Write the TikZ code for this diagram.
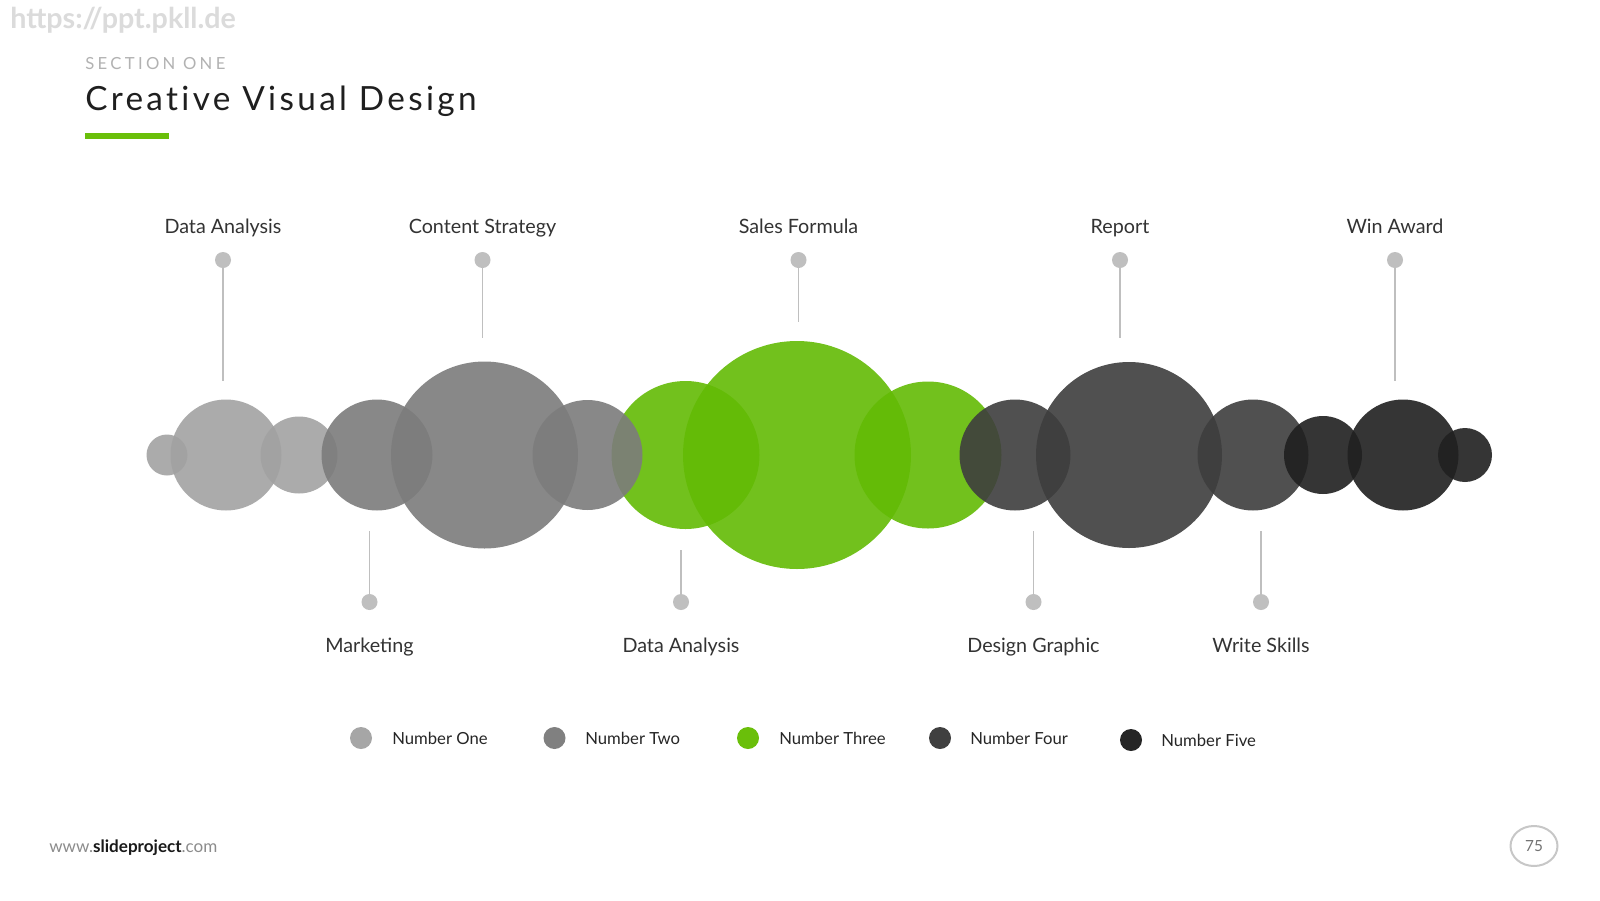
\documentclass[tikz,border=0pt]{standalone}
\usepackage{fontspec}
\setmainfont{Lato}
\newfontfamily\titlefont[LetterSpace=10,Ligatures=NoCommon]{Lato}
\newfontfamily\sectfont[LetterSpace=20]{Lato}
\definecolor{onec}{HTML}{A2A2A2}
\definecolor{twoc}{HTML}{7C7C7C}
\definecolor{threec}{HTML}{63BB05}
\definecolor{fourc}{HTML}{3E3E3E}
\definecolor{fivec}{HTML}{202020}
\definecolor{keygreen}{HTML}{6ABF0A}
\definecolor{pinc}{HTML}{BFBFBF}
\definecolor{txtc}{HTML}{333333}

\begin{document}
\begin{tikzpicture}[x=0.75pt,y=-0.75pt,
  pindot/.style={circle,fill=pinc,inner sep=0pt,minimum size=12pt},
  pinline/.style={draw=pinc,line width=0.9pt},
  lbl/.style={anchor=base,text=txtc,font=\fontsize{14.8}{17}\selectfont},
  keydot/.style={circle,inner sep=0pt,minimum size=16.5pt},
  keytxt/.style={anchor=west,text=black!85,inner sep=0pt,font=\fontsize{12.5}{15}\selectfont}]
\useasboundingbox (0,0) rectangle (1600,900);
\fill[white] (0,0) rectangle (1600,900);
\node[anchor=base west,inner sep=0pt,text=black!14,font=\bfseries\fontsize{21.5}{25}\selectfont] (web) at (10,28) {https://ppt.pkll.de};
\node[anchor=base west,inner sep=0pt,text=black!30,font=\sectfont\fontsize{12.5}{15}\selectfont] (sect) at (85,69) {SECTION ONE};
\node[anchor=base west,inner sep=0pt,text=black!88,font=\titlefont\fontsize{25}{30}\selectfont] (title) at (85,110.5) {Creative Visual Design};
\fill[keygreen] (85,132.5) rectangle (169,138.5);
\foreach \cx/\r in {685.5/74,797/114,928/73.5}
  \fill[threec,fill opacity=0.9] (\cx,455) circle (\r);
\foreach \cx/\r/\c in {167/20.5/onec,226/55.5/onec,299/38.5/onec,377/55.5/twoc,484.5/93.5/twoc,587.5/55/twoc,
  1015/55.5/fourc,1129/93/fourc,1253/55.5/fourc,1323/39/fivec,1403/55.5/fivec,1465/27/fivec}
  \fill[\c,fill opacity=0.9] (\cx,455) circle (\r);
\node[pindot] (t1) at (223,260) {};
\node[pindot] (t2) at (482.5,260) {};
\node[pindot] (t3) at (798.5,260) {};
\node[pindot] (t4) at (1120,260) {};
\node[pindot] (t5) at (1395,260) {};
\coordinate (te1) at (223,381);
\coordinate (te2) at (482.5,338);
\coordinate (te3) at (798.5,321.5);
\coordinate (te4) at (1120,338);
\coordinate (te5) at (1395,381);
\foreach \i in {1,...,5}
  \draw[pinline] (t\i) -- (te\i);
\node[lbl] (tl1) at (223,233) {Data Analysis};
\node[lbl] (tl2) at (482.5,233) {Content Strategy};
\node[lbl] (tl3) at (798.5,233) {Sales Formula};
\node[lbl] (tl4) at (1120,233) {Report};
\node[lbl] (tl5) at (1395,233) {Win Award};
\node[pindot] (b1) at (369.5,602) {};
\node[pindot] (b2) at (681,602) {};
\node[pindot] (b3) at (1033.5,602) {};
\node[pindot] (b4) at (1261,602) {};
\coordinate (be1) at (369.5,531);
\coordinate (be2) at (681,550);
\coordinate (be3) at (1033.5,531);
\coordinate (be4) at (1261,531);
\foreach \i in {1,...,4}
  \draw[pinline] (b\i) -- (be\i);
\node[lbl] (bl1) at (369.5,652) {Marketing};
\node[lbl] (bl2) at (681,652) {Data Analysis};
\node[lbl] (bl3) at (1033.5,652) {Design Graphic};
\node[lbl] (bl4) at (1261,652) {Write Skills};
\node[keydot,fill=black!35] (k1) at (361,738) {};
\node[keydot,fill=black!50] (k2) at (554.5,738) {};
\node[keydot,fill=keygreen] (k3) at (748,738) {};
\node[keydot,fill=black!75] (k4) at (940,738) {};
\node[keydot,fill=black!85] (k5) at (1131,740) {};
\node[keytxt] (kt1) at (392,738) {Number One};
\node[keytxt] (kt2) at (585,738) {Number Two};
\node[keytxt] (kt3) at (779,738) {Number Three};
\node[keytxt] (kt4) at (970,738) {Number Four};
\node[keytxt] (kt5) at (1161,740) {Number Five};
\node[anchor=base west,inner sep=0pt,font=\fontsize{12.8}{15}\selectfont] (site) at (49,852)
  {\textcolor{black!45}{www.}\textcolor{black!90}{\bfseries slideproject}\textcolor{black!45}{.com}};
\draw[black!22,line width=1.5pt] (1534,846) ellipse (23.5 and 20);
\node[text=black!55,font=\fontsize{11.5}{14}\selectfont] (page) at (1534,846) {75};
\end{tikzpicture}
\end{document}
